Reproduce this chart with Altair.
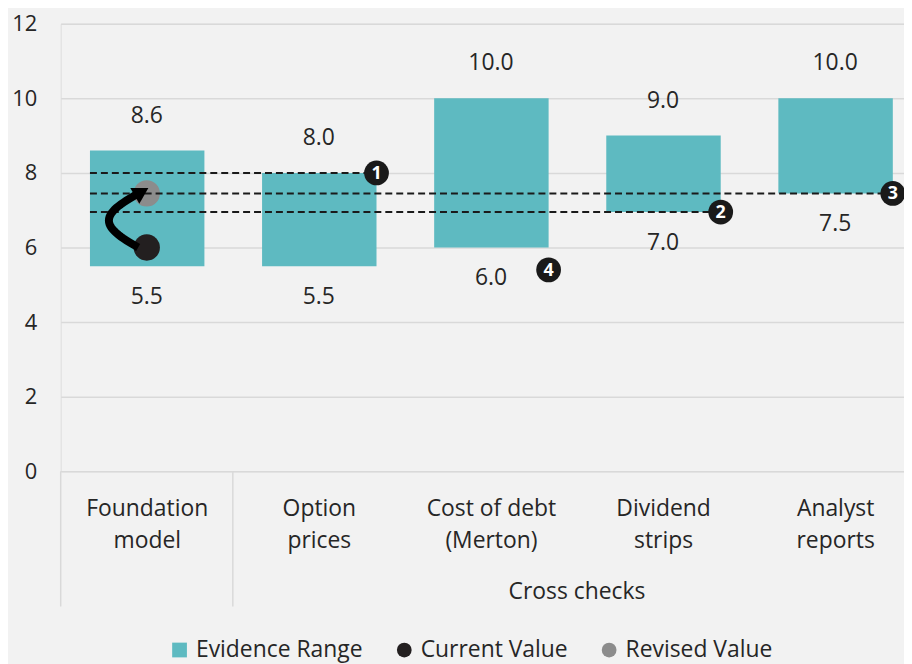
import json
import math
import altair as alt
import pandas as pd

# ---------------- data ----------------
categories = ["Foundation model", "Option prices", "Cost of debt (Merton)",
              "Dividend strips", "Analyst reports"]
range_low = [5.5, 5.5, 6.0, 6.95, 7.45]
range_high = [8.6, 8.0, 10.0, 9.0, 10.0]
current_value = 6.0
revised_value = 7.45
marker_ids = ["1", "2", "3", "4"]
marker_category = [1, 3, 4, 2]          # index of the bar each numbered marker sits on
marker_values = [8.0, 6.95, 7.45, 5.4]
marker_has_line = [True, True, True, False]
y_ticks = [0, 2, 4, 6, 8, 10, 12]
series_names = ["Evidence Range", "Current Value", "Revised Value"]
group_label = "Cross checks"

# ---------------- styles ----------------
TEAL = "#5EBAC1"
DARK = "#231F20"
GREY = "#8C8C8C"
TEXT = "#262626"
GRID = "#D9D9D9"
BG = "#F2F2F2"
FONT = "Open Sans"
BAR_L, BAR_R = 0.17, 0.835

n = len(categories)
bars = pd.DataFrame({
    "idx": list(range(n)),
    "cat": categories,
    "low": range_low,
    "high": range_high,
})
bars["x0"] = bars["idx"] + BAR_L
bars["x1"] = bars["idx"] + BAR_R
bars["xc"] = bars["idx"] + 0.5
bars["low_txt"] = [f"{v:.1f}" for v in range_low]
bars["high_txt"] = [f"{v:.1f}" for v in range_high]
bars["series"] = series_names[0]

points = pd.DataFrame({
    "x": [0.5, 0.5],
    "y": [current_value, revised_value],
    "series": series_names[1:],
})

markers = pd.DataFrame({
    "id": marker_ids,
    "x": [c + BAR_R for c in marker_category],
    "y": marker_values,
    "line": marker_has_line,
})
markers["x0"] = BAR_L
lines = markers[markers["line"]]

# curved arrow from current to revised value (annotation connector)
arc_t = [i / 30 for i in range(31)]
arc = pd.DataFrame({
    "t": arc_t,
    "x": [0.45 - 0.17 * math.sin(math.pi * t) for t in arc_t],
    "y": [current_value + (revised_value - current_value) * t for t in arc_t],
})
head = pd.DataFrame({"x": [0.47], "y": [revised_value + 0.04]})

seps = pd.DataFrame({"x": [0, 1]})
group = pd.DataFrame({"x": [(1 + n) / 2], "label": [group_label]})

label_lines = [[c.rsplit(" ", 1)[0], c.rsplit(" ", 1)[1]] for c in categories]
label_expr = json.dumps(label_lines) + "[floor(datum.value)]"

x_scale = alt.Scale(domain=[0, 4.9], nice=False, zero=False)
y_scale = alt.Scale(domain=[0, 12], nice=False, zero=True)

legend = alt.Legend(
    orient="none", legendX=108, legendY=618, direction="horizontal", title=None,
    labelFontSize=23, labelColor=TEXT, labelFont=FONT, symbolSize=220,
    labelOffset=5, columnPadding=30, symbolStrokeWidth=0, labelLimit=400,
)
color = alt.Color("series:N", scale=alt.Scale(domain=series_names,
                                              range=[TEAL, DARK, GREY]),
                  legend=legend)

X = lambda f: alt.X(f, type="quantitative", scale=x_scale, title=None)
Y = lambda f: alt.Y(f, type="quantitative", scale=y_scale, title=None)

bar_layer = alt.Chart(bars).mark_bar(color=TEAL).encode(
    x=alt.X("x0:Q", scale=x_scale, title=None,
            axis=alt.Axis(values=[i + 0.5 for i in range(n)], labelExpr=label_expr,
                          grid=False, domain=False, ticks=False, labelFontSize=23,
                          labelLineHeight=33, labelPadding=26, labelBaseline="top",
                          labelColor=TEXT, labelFont=FONT, labelFlush=False,
                          labelOverlap=False, labelBound=False)),
    x2="x1:Q",
    y=alt.Y("low:Q", scale=y_scale, title=None,
            axis=alt.Axis(values=y_ticks, grid=True, gridColor=GRID, gridWidth=1.5,
                          domain=False, ticks=False, labelFontSize=22,
                          labelColor=TEXT, labelFont=FONT, labelPadding=24)),
    y2="high:Q",
    color=color,
)

top_text = alt.Chart(bars).mark_text(fontSize=23, font=FONT, color=TEXT,
                                     dy=-35, baseline="middle").encode(
    x=X("xc"), y=Y("high"), text="high_txt:N")
low_text = alt.Chart(bars).mark_text(fontSize=23, font=FONT, color=TEXT,
                                     dy=31, baseline="middle").encode(
    x=X("xc"), y=Y("low"), text="low_txt:N")

point_layer = alt.Chart(points).mark_point(filled=True, size=700, opacity=1).encode(
    x=X("x"), y=Y("y"), color=color,
    shape=alt.Shape("series:N", scale=alt.Scale(domain=series_names,
                                                range=["square", "circle", "circle"]),
                    legend=legend),
)

dash_layer = alt.Chart(lines).mark_rule(color="#1A1A1A", strokeWidth=2,
                                        strokeDash=[7, 4]).encode(
    x=X("x0"), x2="x:Q", y=Y("y"))

arc_layer = alt.Chart(arc).mark_line(color="#000000", strokeWidth=8,
                                     strokeCap="butt").encode(
    x=X("x"), y=Y("y"), order="t:Q")
head_layer = alt.Chart(head).mark_point(shape="triangle-right", filled=True,
                                        color="#000000", size=330, angle=330,
                                        opacity=1).encode(x=X("x"), y=Y("y"))

marker_dot = alt.Chart(markers).mark_point(filled=True, color="#1A1A1A", size=620,
                                           opacity=1).encode(x=X("x"), y=Y("y"))
marker_txt = alt.Chart(markers).mark_text(color="white", fontSize=18,
                                          fontWeight="bold", font=FONT,
                                          baseline="middle", dy=1).encode(
    x=X("x"), y=Y("y"), text="id:N")

sep_layer = alt.Chart(seps).mark_rule(color=GRID, strokeWidth=1.5).encode(
    x=X("x"), y=alt.value(450), y2=alt.value(586))
group_layer = alt.Chart(group).mark_text(fontSize=23, font=FONT, color=TEXT,
                                         baseline="middle").encode(
    x=X("x"), y=alt.value(571), text="label:N")

chart = alt.layer(
    bar_layer, top_text, low_text, point_layer, dash_layer, arc_layer, head_layer,
    marker_dot, marker_txt, sep_layer, group_layer,
).properties(
    width=848, height=450,
    padding={"left": 53, "top": 14, "right": 0, "bottom": 194},
    autosize=alt.AutoSizeParams(type="none"),
    background=BG,
).configure_view(stroke=None).configure(font=FONT)

chart.save("out.html", embed_options={"renderer": "svg", "actions": False})
